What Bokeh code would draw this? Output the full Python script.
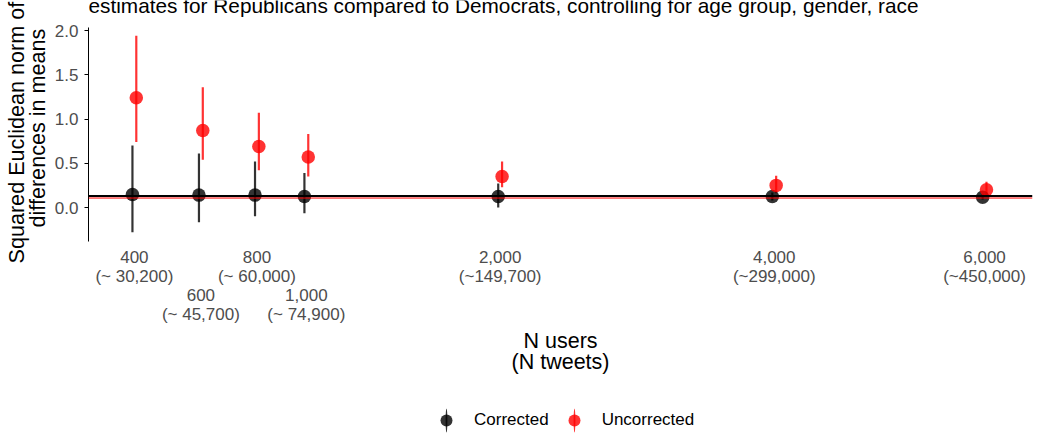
import numpy as np
from bokeh.plotting import figure
from bokeh.layouts import column
from bokeh.models import (ColumnDataSource, FixedTicker, LinearAxis, Legend,
                          LegendItem, Label, PrintfTickFormatter, Range1d, Span,
                          Title)
from bokeh.embed import file_html
from bokeh.resources import INLINE

# Sample sizes (users) and approximate tweet counts
n_users = [400, 600, 800, 1000, 2000, 4000, 6000]
n_tweets = ["~ 30,200", "~ 45,700", "~ 60,000", "~ 74,900",
            "~149,700", "~299,000", "~450,000"]

# Corrected estimates with intervals
corr_est = [0.147, 0.14, 0.14, 0.125, 0.124, 0.124, 0.116]
corr_lo = [-0.28, -0.166, -0.10, -0.065, 0.0, 0.08, 0.09]
corr_hi = [0.70, 0.61, 0.52, 0.39, 0.27, 0.17, 0.15]

# Uncorrected estimates with intervals
unc_est = [1.24, 0.87, 0.69, 0.57, 0.35, 0.25, 0.20]
unc_lo = [0.74, 0.54, 0.42, 0.35, 0.23, 0.16, 0.13]
unc_hi = [1.94, 1.36, 1.07, 0.83, 0.52, 0.36, 0.29]

# Reference levels
ref_corrected = 0.13
ref_uncorrected = 0.107

y_ticks = [0.0, 0.5, 1.0, 1.5, 2.0]
row2_users = [600, 1000]

FONT = "Liberation Sans"
GREY = "#4d4d4d"
DODGE = 0.13          # horizontal offset on the sqrt scale
Y_LO, Y_HI = -0.384, 2.034
Y_TOP = 2.339         # extra headroom above the panel for the title line

sx = np.sqrt(np.array(n_users, dtype=float))
corr_src = ColumnDataSource(dict(x=sx - DODGE, y=corr_est, lo=corr_lo, hi=corr_hi))
unc_src = ColumnDataSource(dict(x=sx + DODGE, y=unc_est, lo=unc_lo, hi=unc_hi))

p = figure(width=1039, height=400, output_backend="svg", toolbar_location=None,
           x_range=Range1d(16.9, 80.7), y_range=Range1d(Y_LO, Y_TOP),
           min_border_left=88, min_border_right=7, min_border_top=0,
           min_border_bottom=159)
p.outline_line_color = None
p.grid.visible = False
p.background_fill_color = "white"

# error bars and points
p.segment(x0="x", y0="lo", x1="x", y1="hi", source=corr_src,
          line_color="black", line_alpha=0.8, line_width=2.2)
p.segment(x0="x", y0="lo", x1="x", y1="hi", source=unc_src,
          line_color="red", line_alpha=0.8, line_width=2.2)
p.scatter("x", "y", source=corr_src, size=13.5, fill_color="black",
          fill_alpha=0.8, line_color=None)
p.scatter("x", "y", source=unc_src, size=13.5, fill_color="red",
          fill_alpha=0.8, line_color=None)

p.add_layout(Span(location=ref_corrected, dimension="width",
                  line_color="black", line_width=2.2))
p.add_layout(Span(location=ref_uncorrected, dimension="width",
                  line_color="red", line_width=1))

# y axis
yax = p.yaxis[0]
yax.bounds = (Y_LO, Y_HI)
yax.ticker = FixedTicker(ticks=y_ticks)
yax.formatter = PrintfTickFormatter(format="%.1f")
yax.major_label_standoff = 6
yax.major_label_text_font = FONT
yax.major_label_text_font_size = "17px"
yax.major_label_text_color = GREY
yax.major_tick_in = 0
yax.major_tick_out = 4
yax.minor_tick_line_color = None
yax.axis_line_color = "black"
yax.major_tick_line_color = "black"

# y axis title, two rotated lines (inner line first)
for txt, off, gap in [("differences in means", 14, 4),
                      ("Squared Euclidean norm of", -22, -16)]:
    p.add_layout(Title(text=txt, align="left", offset=off, standoff=gap,
                       text_font=FONT, text_font_size="21.6px",
                       text_font_style="normal", text_color="black"), "left")

def tick_text(users):
    idx = [n_users.index(u) for u in users]
    return {float(sx[i]): f"{n_users[i]:,}\n({n_tweets[i]})" for i in idx}

row1_users = [u for u in n_users if u not in row2_users]

xax = p.xaxis[0]
xax.ticker = FixedTicker(ticks=[float(np.sqrt(u)) for u in row1_users])
xax.major_label_overrides = tick_text(row1_users)

xax2 = LinearAxis(ticker=FixedTicker(ticks=[float(np.sqrt(u)) for u in row2_users]))
xax2.major_label_overrides = tick_text(row2_users)
p.add_layout(xax2, "below")

for ax in (xax, xax2):
    ax.axis_line_color = None
    ax.major_tick_line_color = None
    ax.minor_tick_line_color = None
    ax.major_tick_in = 0
    ax.major_tick_out = 0
    ax.major_label_text_font = FONT
    ax.major_label_text_font_size = "17px"
    ax.major_label_text_color = GREY
    ax.major_label_text_line_height = 1.0
xax.major_label_standoff = 6
xax2.major_label_standoff = -3

# x axis title, two lines
for txt, gap in [("N users", 0), ("(N tweets)", -9)]:
    p.add_layout(Title(text=txt, align="center", text_font=FONT,
                       text_font_size="21.5px", text_font_style="normal",
                       text_color="black", standoff=gap), "below")

# title line at the top edge
p.add_layout(Label(x=0, y=236, x_units="screen", y_units="screen",
                   text="estimates for Republicans compared to Democrats, controlling for age group, gender, race",
                   text_font=FONT, text_font_size="20.8px", text_color="black",
                   text_baseline="alphabetic"))

# legend strip: a thin vertical bar through a dot for each series
lg = figure(width=1039, height=35, output_backend="svg", toolbar_location=None,
            x_range=Range1d(0, 1), y_range=Range1d(0, 1),
            x_axis_location=None, y_axis_location=None, min_border=0)
lg.outline_line_color = None
lg.grid.visible = False
off = ColumnDataSource(dict(x=[-10.0], y=[-10.0]))
items = []
for name, col in [("Corrected", "black"), ("Uncorrected", "red")]:
    bar = lg.ellipse("x", "y", width=3, height=40, width_units="screen",
                     height_units="screen", source=off, fill_color=col,
                     fill_alpha=0.8, line_color=None)
    dot = lg.scatter("x", "y", source=off, size=13.5, fill_color=col,
                     fill_alpha=0.8, line_color=None)
    items.append(LegendItem(label=name, renderers=[bar, dot]))
lg.add_layout(Legend(items=items, orientation="horizontal", location=(341, 0),
                     label_text_font=FONT, label_text_font_size="17px",
                     label_text_color="black", glyph_width=34, glyph_height=30,
                     label_standoff=11, spacing=8, padding=0, margin=0,
                     border_line_color=None, background_fill_color=None))

layout = column(p, lg, spacing=0)
open("out.html", "w").write(file_html(layout, INLINE))
